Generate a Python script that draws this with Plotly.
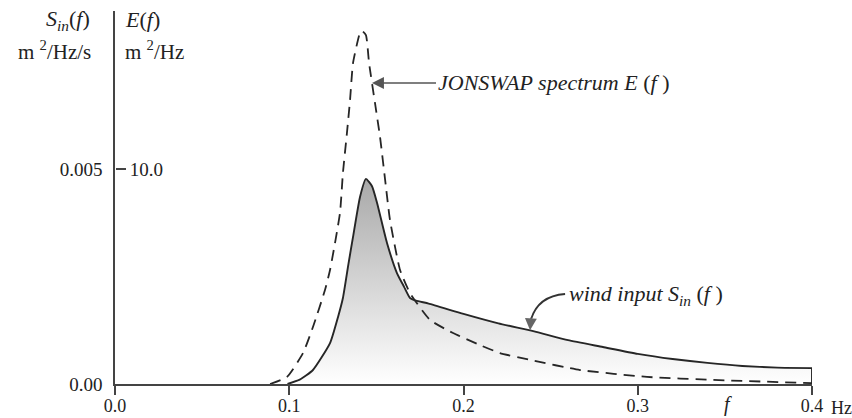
import plotly.graph_objects as go

# ---- data ----
# wind input S_in(f), m^2/Hz/s
f_wind = [0.099, 0.106, 0.1136, 0.1234, 0.1280, 0.1308, 0.1340, 0.1366, 0.1406, 0.1440,
          0.1475, 0.1504, 0.1561, 0.1618, 0.1659, 0.1693, 0.1727, 0.1800, 0.2000, 0.2200,
          0.2400, 0.2600, 0.2800, 0.3000, 0.3200, 0.3400, 0.3600, 0.3800, 0.4000]
s_wind = [0.0, 0.00010, 0.000326, 0.00095, 0.00156, 0.00200, 0.00280, 0.00342, 0.00435, 0.00477,
          0.00460, 0.00421, 0.00328, 0.00258, 0.00226, 0.00200, 0.00194, 0.00187, 0.00163, 0.00141,
          0.00123, 0.00102, 0.00086, 0.00070, 0.00058, 0.00049, 0.00042, 0.00038, 0.00037]

# JONSWAP spectrum E(f), m^2/Hz
f_js = [0.0890, 0.0987, 0.1079, 0.1136, 0.1205, 0.1234, 0.1291, 0.1308, 0.1331, 0.1349,
        0.1366, 0.1406, 0.1418, 0.1440, 0.1458, 0.1492, 0.1521, 0.1555, 0.1578, 0.1636,
        0.1693, 0.1808, 0.1940, 0.2095, 0.2209, 0.2382, 0.2669, 0.3053, 0.3432, 0.4000]
e_js = [0.0, 0.33, 1.44, 2.65, 4.37, 5.30, 7.95, 9.81, 11.67, 13.21,
        14.93, 16.33, 16.42, 16.23, 14.93, 13.07, 11.49, 9.16, 7.63, 5.30,
        4.23, 2.98, 2.37, 1.81, 1.44, 1.12, 0.65, 0.33, 0.19, 0.04]

x_ticks = [0.0, 0.1, 0.2, 0.3, 0.4]
x_ticktext = ["0.0", "0.1", "0.2", "0.3", "0.4"]
s_ticks = [0.0, 0.005]
s_ticktext = ["0.00", "0.005"]
e_ticks = [10.0]
e_ticktext = ["10.0"]

S_TOP = 0.008674
E_TOP = S_TOP * 2000.0

SERIF = "Liberation Serif, Times New Roman, serif"
INK = "#262626"
AX = "#444444"

fig = go.Figure()

fig.add_trace(go.Scatter(
    x=f_wind, y=s_wind, mode="lines", yaxis="y",
    line=dict(color=INK, width=1.9, shape="spline", smoothing=0.5),
    fill="tozeroy",
    fillgradient=dict(type="vertical", start=0, stop=0.0048,
                      colorscale=[[0, "#ffffff"], [1, "#a8a8a8"]]),
    hoverinfo="skip", showlegend=False))
# closing edge at f = 0.4
fig.add_trace(go.Scatter(
    x=[f_wind[-1], f_wind[-1]], y=[s_wind[-1], 0.0], mode="lines", yaxis="y",
    line=dict(color=INK, width=1.9), hoverinfo="skip", showlegend=False))

fig.add_trace(go.Scatter(
    x=f_js, y=e_js, mode="lines", yaxis="y2",
    line=dict(color=INK, width=1.8, dash="11px,7px", shape="spline", smoothing=0.5),
    hoverinfo="skip", showlegend=False))

fig.update_layout(
    width=852, height=418,
    margin=dict(l=115, r=40, t=11, b=34),
    paper_bgcolor="white", plot_bgcolor="white",
    font=dict(family=SERIF, size=19, color="#222222"),
    xaxis=dict(range=[0, 0.4], tickvals=x_ticks, ticktext=x_ticktext,
               ticks="outside", ticklen=9, tickwidth=1.5, tickcolor=AX,
               showline=True, linecolor=AX, linewidth=1.5, automargin=False,
               ticklabelstandoff=-4,
               showgrid=False, zeroline=False, tickfont=dict(size=18)),
    yaxis=dict(range=[0, S_TOP], tickvals=s_ticks, ticktext=s_ticktext,
               ticks="", showline=True, linecolor=AX, linewidth=1.5,
               showgrid=False, zeroline=False, ticklabelstandoff=7,
               automargin=False, tickfont=dict(size=19)),
    yaxis2=dict(range=[0, E_TOP], overlaying="y", side="right", anchor="free",
                position=0, tickvals=e_ticks, ticktext=e_ticktext,
                ticks="outside", ticklen=10, tickwidth=1.5, tickcolor=AX,
                showline=False, showgrid=False, zeroline=False,
                automargin=False, tickfont=dict(size=19)),
)

ann = []
# axis header labels
ann.append(dict(xref="paper", yref="paper", x=-0.033, y=0.976, xanchor="right", yanchor="middle",
                text="<i>S</i><sub><i>in</i></sub>(<i>f</i>)", showarrow=False, font=dict(size=22)))
ann.append(dict(xref="paper", yref="paper", x=-0.031, y=0.895, xanchor="right", yanchor="middle",
                text="m <sup>2</sup>/Hz/s", showarrow=False, font=dict(size=21)))
ann.append(dict(xref="paper", yref="paper", x=0.012, y=0.976, xanchor="left", yanchor="middle",
                text="<i>E</i>(<i>f</i>)", showarrow=False, font=dict(size=22)))
ann.append(dict(xref="paper", yref="paper", x=0.012, y=0.895, xanchor="left", yanchor="middle",
                text="m <sup>2</sup>/Hz", showarrow=False, font=dict(size=21)))
# x axis extras
ann.append(dict(xref="paper", yref="paper", x=1.0244, y=-0.064, xanchor="left", yanchor="middle",
                text="Hz", showarrow=False, font=dict(size=18)))
ann.append(dict(xref="paper", yref="paper", x=0.879, y=-0.054, xanchor="center", yanchor="middle",
                text="<i>f</i>", showarrow=False, font=dict(size=20)))
# JONSWAP label with arrow
ann.append(dict(xref="x", yref="y2", x=0.1475, y=14.0, axref="pixel", ayref="pixel",
                ax=181, ay=0, text="<i>JONSWAP spectrum E</i> (<i>f</i> )",
                showarrow=True, arrowhead=2, arrowsize=1.4, arrowwidth=1.7,
                arrowcolor="#555555", standoff=0, font=dict(size=22)))
# wind input label
ann.append(dict(xref="x", yref="y", x=0.2595, y=0.00207, xanchor="left", yanchor="middle",
                text="<i>wind input S</i><sub><i>in</i></sub> (<i>f</i> )", showarrow=False,
                font=dict(size=22)))
# curved arrow head
ann.append(dict(xref="x", yref="y", x=0.2382, y=0.00125, axref="pixel", ayref="pixel",
                ax=1, ay=-14, text="", showarrow=True, arrowhead=2, arrowsize=1.4,
                arrowwidth=1.7, arrowcolor="#666666", standoff=0))
fig.update_layout(annotations=ann)

fig.add_shape(type="path", xref="x", yref="y",
              path="M 0.2583,0.002093 Q 0.2428,0.002047 0.2387,0.00150",
              line=dict(color="#333333", width=1.8))

fig.write_html("out.html")
